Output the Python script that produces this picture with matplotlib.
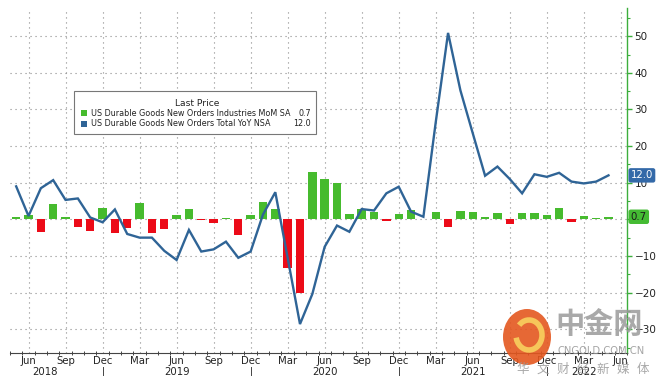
import matplotlib.pyplot as plt
import numpy as np
import pandas as pd
from matplotlib.patches import Rectangle, Ellipse, Arc

# monthly data, May 2018 .. May 2022
months = pd.period_range("2018-05", "2022-05", freq="M")
mom = [0.5, 1.2, -3.4, 4.2, 0.5, -2.0, -3.3, 3.0,
       -3.8, -2.3, 4.5, -3.8, -2.6, 1.2, 2.8, -0.3, -1.0, 0.4, -4.4, 1.2,
       4.8, 2.7, -13.2, -20.2, 12.8, 11.0, 9.8, 1.45, 2.8, 2.1, -0.4, 1.5,
       2.5, 0.1, 1.9, -2.0, 2.3, 1.9, 0.5, 1.6, -1.4, 1.6, 1.6, 1.2,
       3.2, -0.6, 0.9, 0.45, 0.7]
yoy = [9.0, 0.9, 8.5, 10.7, 5.3, 5.7, 0.5, -0.8,
       2.7, -4.0, -5.0, -5.0, -8.6, -11.1, -2.9, -8.8, -8.2, -6.1, -10.5, -8.8,
       1.3, 7.4, -10.5, -28.6, -20.4, -7.5, -1.7, -3.4, 2.8, 2.4, 7.1, 8.9,
       2.1, 0.7, 26.5, 50.9, 35.2, 23.5, 11.9, 14.4, 11.0, 7.1, 12.3, 11.6,
       12.7, 10.3, 9.8, 10.3, 12.0]
name_mom = "US Durable Goods New Orders Industries MoM SA"
name_yoy = "US Durable Goods New Orders Total YoY NSA"

GREEN = "#46bb2e"
RED = "#ec0b18"
BLUE = "#2f6496"
AXGREEN = "#3cae3c"

W, H = 660, 379
fx = lambda px: px / W
fy = lambda py: 1 - py / H

plt.rcParams["font.family"] = ["DejaVu Sans"]
fig = plt.figure(figsize=(6.6, 3.79), dpi=100)
ax = fig.add_axes([fx(10), fy(353), fx(617), 345 / H])

x = np.arange(len(months))
ax.bar(x, mom, width=0.68, color=[GREEN if v >= 0 else RED for v in mom], zorder=2)
ax.plot(x, yoy, color=BLUE, lw=1.7, zorder=3, solid_joinstyle="miter")

ax.set_xlim(-0.48, 49.28)
ax.set_ylim(-36.5, 57.7)

# x axis: quarter labels, month ticks
all_months = pd.period_range("2018-05", "2022-06", freq="M")
qpos = [i for i, m in enumerate(all_months) if m.month in (3, 6, 9, 12)]
ax.set_xticks(qpos)
ax.set_xticklabels([all_months[i].strftime("%b") for i in qpos], fontsize=7.3, color="#222")
ax.set_xticks(np.arange(-0.5, 49.6, 1), minor=True)
ax.tick_params(axis="x", which="major", length=0, pad=2.5)
ax.tick_params(axis="x", which="minor", length=3.5, direction="inout", color="#444", width=0.7)

# year labels and separators
tr = ax.get_xaxis_transform()
years = {2018: 2.3, 2019: 13, 2020: 25, 2021: 37, 2022: 46}
for yr, pos in years.items():
    ax.text(pos, -0.054, str(yr), transform=tr, ha="center", va="center", fontsize=7.3, color="#222")
for i, m in enumerate(all_months):
    if m.month == 12:
        ax.plot([i, i], [-0.04, -0.064], transform=tr, color="#444", lw=0.7, clip_on=False)

# right y axis
ax.yaxis.tick_right()
ax.set_yticks(range(-30, 51, 10))
ax.set_yticks(range(-35, 56, 5), minor=True)
ax.tick_params(axis="y", which="major", length=3.5, width=1, color=AXGREEN, labelcolor="#222",
               labelsize=7.5, pad=2)
ax.tick_params(axis="y", which="minor", length=2, width=0.8, color=AXGREEN)

for s in ("top", "left"):
    ax.spines[s].set_visible(False)
ax.spines["right"].set_color(AXGREEN)
ax.spines["right"].set_linewidth(1.0)
ax.spines["bottom"].set_color("#444")
ax.spines["bottom"].set_linewidth(0.8)

ax.grid(True, which="major", color="#8a8a8a", linestyle=(0, (1, 3.5)), lw=0.8, zorder=0)

# last value badges
ytr = ax.get_yaxis_transform()
ax.text(1.006, yoy[-1], f"{yoy[-1]:.1f}", transform=ytr, ha="left", va="center", fontsize=7.3,
        color="white", bbox=dict(boxstyle="round,pad=0.22", fc="#3369a8", ec="none"), zorder=5)
ax.text(1.006, mom[-1], f"{mom[-1]:.1f}", transform=ytr, ha="left", va="center", fontsize=7.3,
        color="#1a1a1a", bbox=dict(boxstyle="round,pad=0.22", fc="#44bb33", ec="none"), zorder=5)

# legend box
fig.patches.append(Rectangle((fx(74), fy(134)), fx(242), 43 / H, transform=fig.transFigure,
                             fc="white", ec="#777", lw=0.8, zorder=10))
fig.text(fx(197), fy(103), "Last Price", ha="center", va="center", fontsize=6.6, color="#222", zorder=11)
for yy, col, name, val in [(113.3, GREEN, name_mom, mom[-1]), (124, BLUE, name_yoy, yoy[-1])]:
    fig.patches.append(Rectangle((fx(81), fy(yy + 3)), fx(6), 6 / H, transform=fig.transFigure,
                                 fc=col, ec="none", zorder=11))
    fig.text(fx(91), fy(yy), name, ha="left", va="center", fontsize=5.75, color="#222", zorder=11)
    fig.text(fx(311), fy(yy), f"{val:.1f}", ha="right", va="center", fontsize=5.75, color="#222", zorder=11)

# watermark
fig.patches.append(Ellipse((fx(527), fy(337)), fx(48), 56 / H, transform=fig.transFigure,
                           fc="#e4571f", ec="none", alpha=0.9, zorder=12))
fig.patches.append(Arc((fx(529), fy(335)), fx(26), 30 / H, theta1=200, theta2=120,
                       transform=fig.transFigure, color="#f6c65a", lw=4, zorder=13))
cjk = ["Noto Sans CJK SC", "DejaVu Sans"]
fig.text(fx(599), fy(324), "中金网", ha="center", va="center", fontsize=21, fontweight="bold",
         color="#9a9a9a", alpha=0.85, family=cjk, zorder=12)
fig.text(fx(601), fy(351), "CNGOLD.COM.CN", ha="center", va="center", fontsize=7.2,
         color="#9a9a9a", alpha=0.9, zorder=12)
for px, ch in zip(np.linspace(523, 643, 7), "华文财经新媒体"):
    fig.text(fx(px), fy(369), ch, ha="center", va="center", fontsize=9, color="#9a9a9a",
             alpha=0.85, family=cjk, zorder=12)

fig.savefig("out.png", dpi=100, facecolor="white")
